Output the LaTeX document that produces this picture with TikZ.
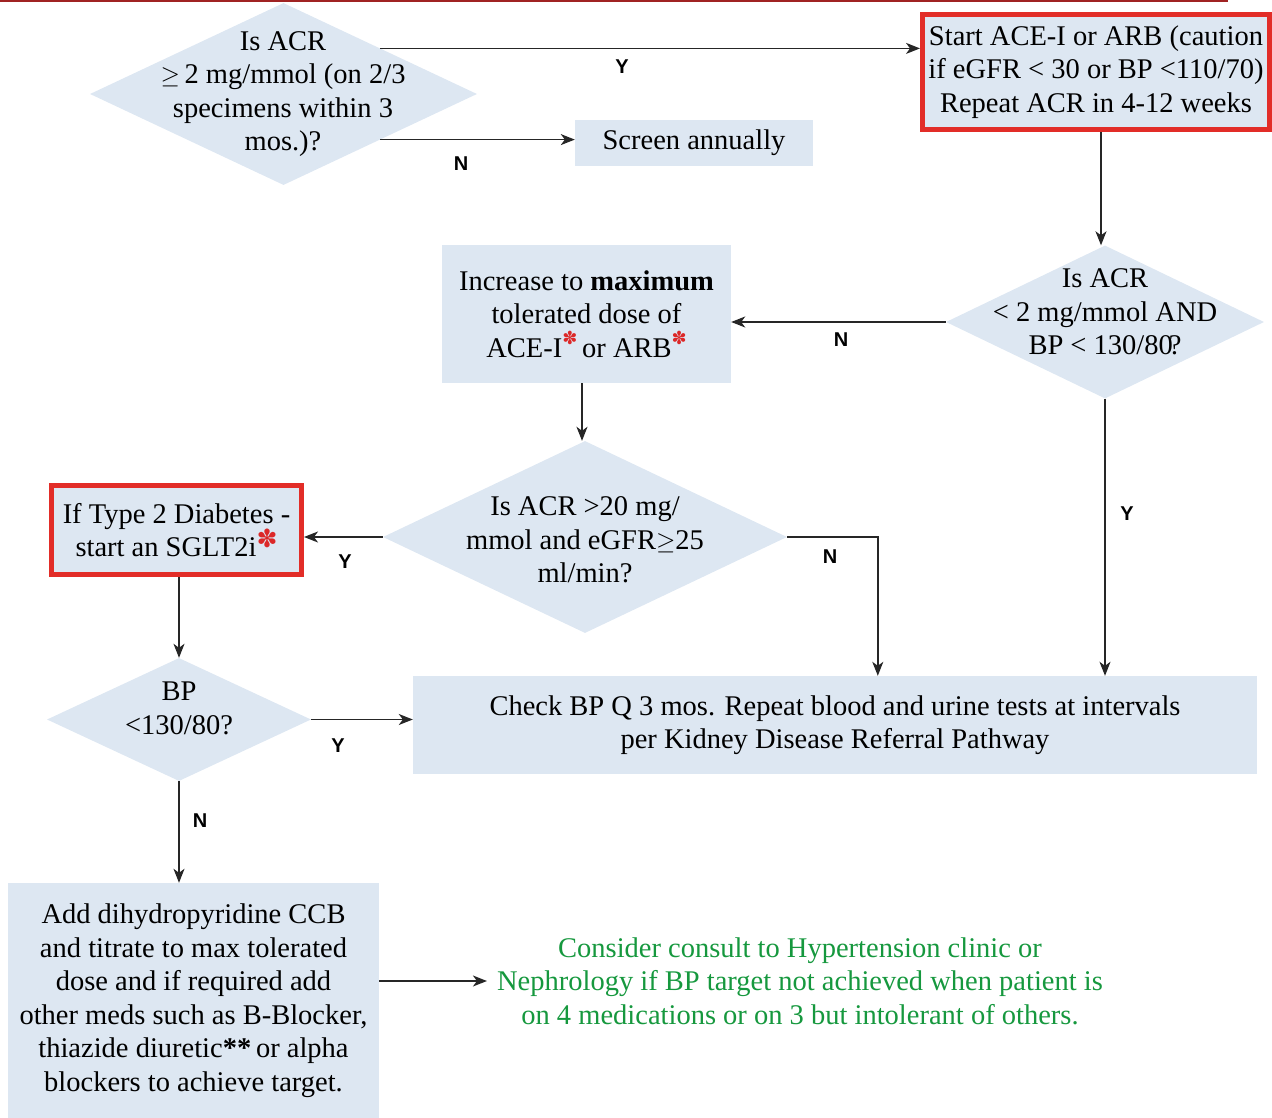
\documentclass[tikz,border=0pt]{standalone}
\usepackage{fontspec}
\setmainfont{Liberation Serif}
\newfontfamily\labfont{Liberation Sans}
\newfontfamily\symfont{DejaVu Sans}
\usetikzlibrary{shapes.geometric,arrows.meta,calc}
\definecolor{boxblue}{RGB}{221,231,242}
\definecolor{redframe}{RGB}{226,45,40}
\definecolor{topred}{RGB}{160,35,35}
\definecolor{consultgreen}{RGB}{22,152,62}
\definecolor{astred}{RGB}{220,40,40}
\newcommand{\flowtxt}{\fontsize{28.5}{33.5}\selectfont}
\newcommand{\redast}[2]{\textcolor{astred}{\smash{\raisebox{#1}{\symfont\fontsize{#2}{#2}\selectfont ✽}}}}
\tikzset{
  flow/.style={draw=black!85, line width=1.4pt, -{Stealth[length=14pt,width=11pt,inset=4pt]}},
  plainbox/.style={fill=boxblue, inner sep=0pt, align=center, font=\flowtxt},
  redbox/.style={plainbox, draw=redframe, line width=5pt},
  decision/.style={diamond, fill=boxblue, inner sep=0pt},
  dtext/.style={align=center, font=\flowtxt, inner sep=0pt},
  yn/.style={font=\labfont\bfseries\fontsize{20}{20}\selectfont, inner sep=0pt},
}
\begin{document}
\begin{tikzpicture}[x=1pt,y=-1pt]
\useasboundingbox (0,0) rectangle (1272,1118);
\draw[topred, line width=2pt] (0,1) -- (1228,1);

% decision 1
\node[decision, minimum width=387pt, minimum height=182pt] (d1) at (283.5,94) {};
\node[dtext] (d1t) at (283,94) {Is ACR\\$\geq$\,2 mg/mmol (on 2/3\\specimens within 3\\mos.)?};

\node[redbox, minimum width=347pt, minimum height=115pt] (b2) at (1096,72)
  {Start ACE-I or ARB (caution\\if eGFR < 30 or BP <110/70)\\Repeat ACR in 4-12 weeks};

\node[plainbox, minimum width=238pt, minimum height=46pt] (sa) at (694,143) {Screen annually};

% decision 2
\node[decision, minimum width=318pt, minimum height=153pt] (d2) at (1105,322) {};
\node[dtext] (d2t) at (1105,312) {Is ACR\\< 2 mg/mmol AND\\BP < 130/80\kern-4pt?};

\node[plainbox, minimum width=289pt, minimum height=138pt] (b3) at (586.5,314)
  {Increase to \textbf{maximum}\\tolerated dose of\\ACE-I\redast{13pt}{18}\,or ARB\redast{13pt}{18}};

% decision 3
\node[decision, minimum width=404pt, minimum height=192pt] (d3) at (585,537) {};
\node[dtext] (d3t) at (585,540) {Is ACR >20 mg/\\mmol and eGFR$\geq$25\\ml/min?};

\node[redbox, minimum width=250pt, minimum height=89pt] (b4) at (176.5,530)
  {If Type 2 Diabetes -\\start an SGLT2i\redast{9pt}{25}};

% decision 4
\node[decision, minimum width=264pt, minimum height=123pt] (d4) at (179,719.5) {};
\node[dtext] (d4t) at (179,708.5) {BP\\<130/80?};

\node[plainbox, minimum width=844pt, minimum height=98pt] (b5) at (835,725)
  {Check BP Q 3 mos. Repeat blood and urine tests at intervals\\per Kidney Disease Referral Pathway};

\node[plainbox, minimum width=371pt, minimum height=235pt] (b6) at (193.5,1000.5)
  {Add dihydropyridine CCB\\and titrate to max tolerated\\dose and if required add\\other meds such as B-Blocker,\\thiazide diuretic{\bfseries **}\,or alpha\\blockers to achieve target.};

\node[align=center, font=\flowtxt, text=consultgreen, inner ysep=0pt, inner xsep=10pt] (gt) at (800,981)
  {Consider consult to Hypertension clinic or\\Nephrology if BP target not achieved when patient is\\on 4 medications or on 3 but intolerant of others.};

% connectors
\draw[flow] (d1.north east) -- (d1.north east -| b2.west);
\draw[flow] (d1.south east) -- (d1.south east -| sa.west);
\draw[flow] ([xshift=5pt]b2.south) -- ([xshift=5pt]b2.south |- d2.north);
\draw[flow] (d2.west) -- (d2.west -| b3.east);
\draw[flow] ([xshift=-4.5pt]b3.south) -- ([xshift=-4.5pt]b3.south |- d3.north);
\draw[flow] (d3.west) -- (d3.west -| b4.east);
\draw[flow] (d3.east) -| ($(b5.north west)+(465,0)$);
\draw[flow] (d2.south) -- (d2.south |- b5.north);
\draw[flow] ([xshift=2.5pt]b4.south) -- ([xshift=2.5pt]b4.south |- d4.north);
\draw[flow] (d4.east) -- (d4.east -| b5.west);
\draw[flow] (d4.south) -- (d4.south |- b6.north);
\draw[flow] (gt.west -| b6.east) -- (gt.west);

% Y / N labels
\node[yn] (l1) at (622,67) {Y};
\node[yn] (l2) at (461,164) {N};
\node[yn] (l3) at (841,340) {N};
\node[yn] (l4) at (345,562) {Y};
\node[yn] (l5) at (830,557) {N};
\node[yn] (l6) at (1127,514) {Y};
\node[yn] (l7) at (338,746) {Y};
\node[yn] (l8) at (200,821) {N};
\end{tikzpicture}
\end{document}
